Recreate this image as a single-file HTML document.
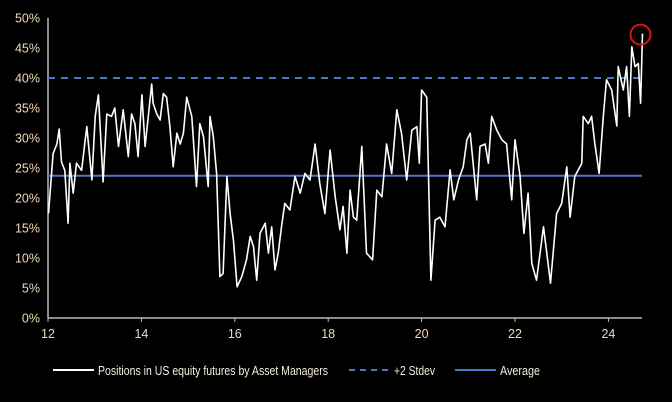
<!DOCTYPE html>
<html><head><meta charset="utf-8"><style>
html,body{margin:0;padding:0;background:#000;width:672px;height:402px;overflow:hidden}
text{font-family:"Liberation Sans",sans-serif}
</style></head><body>
<svg id="chart" width="672" height="402" viewBox="0 0 672 402" xmlns="http://www.w3.org/2000/svg">
<rect width="672" height="402" fill="#000"/>
<g id="grid"></g>
<g id="marks"></g>
<g>
<line x1="53" y1="370" x2="94" y2="370" stroke="#fff" stroke-width="2"/>
<text x="98" y="375" font-size="13" fill="#f4ecdf" textLength="230" lengthAdjust="spacingAndGlyphs">Positions in US equity futures by Asset Managers</text>
<line x1="349" y1="370" x2="388" y2="370" stroke="#4a78c8" stroke-width="2" stroke-dasharray="6,5"/>
<text x="394" y="375" font-size="13" fill="#f4ecdf" textLength="41" lengthAdjust="spacingAndGlyphs">+2 Stdev</text>
<line x1="455" y1="370" x2="496" y2="370" stroke="#4a78c8" stroke-width="2"/>
<text x="500" y="375" font-size="13" fill="#f4ecdf" textLength="40" lengthAdjust="spacingAndGlyphs">Average</text>
</g>
</svg>
<script>
const years = [12.01,12.11,12.19,12.24,12.29,12.36,12.43,12.47,12.54,12.61,12.72,12.83,12.94,13.01,13.08,13.18,13.26,13.36,13.43,13.51,13.61,13.72,13.79,13.86,13.93,14.01,14.08,14.22,14.25,14.33,14.40,14.47,14.54,14.61,14.68,14.76,14.83,14.90,14.97,15.08,15.18,15.25,15.33,15.43,15.47,15.54,15.61,15.68,15.75,15.83,15.90,15.97,16.05,16.15,16.25,16.33,16.40,16.47,16.54,16.65,16.72,16.79,16.86,16.93,17.00,17.07,17.18,17.29,17.40,17.50,17.61,17.72,17.82,17.93,18.04,18.15,18.25,18.32,18.40,18.47,18.54,18.61,18.72,18.82,18.95,19.04,19.15,19.25,19.36,19.47,19.57,19.68,19.79,19.90,19.95,20.00,20.11,20.20,20.29,20.39,20.50,20.61,20.69,20.79,20.89,20.97,21.04,21.18,21.25,21.36,21.43,21.50,21.61,21.72,21.82,21.93,22.00,22.11,22.19,22.28,22.36,22.46,22.61,22.68,22.76,22.89,23.00,23.11,23.18,23.28,23.43,23.46,23.57,23.64,23.71,23.80,23.89,23.96,24.07,24.18,24.21,24.32,24.39,24.45,24.50,24.57,24.64,24.69,24.73];
const positions = [17.4,27.4,29,31.5,26,24.6,15.8,25.8,20.8,25.8,24.6,31.9,23,33.6,37.2,22.7,34,33.6,35,28.6,34.7,26.9,34,32.4,26.9,37.2,28.6,39,35.8,34,33,37.4,36.8,31.9,25.2,30.8,29,30.8,36.8,33.6,21.9,32.4,30.2,21.9,33.6,30.2,24.1,6.9,7.4,23.6,17.4,13,5.2,6.9,9.7,13.6,11.9,6.3,14.1,15.8,10.8,15.2,8,10.8,15.2,19.1,18,23.6,20.8,24.1,23,29,22.4,17.4,28,20.2,14.7,18.6,10.8,21.3,16.8,16.3,28.6,10.8,9.7,21.3,20.2,29,24.1,34.7,30.8,23,31.3,31.9,25.8,38,36.8,6.3,16.3,16.8,15.2,24.7,19.7,23,25.2,29.7,30.8,19.7,28.6,29,25.8,33.6,31.3,29.7,29,19.7,29.7,23.6,14.1,20.8,9.1,6.3,15.2,10.8,5.8,17.4,19.1,25.2,16.8,23.6,25.8,33.6,32.4,33.6,29,24.1,33.6,39.7,38,32,41.9,38,41.9,33.6,45.2,41.9,42.4,35.8,47.4];
const average = 23.7;
const stdev2 = 40;
const yTicks = [0,5,10,15,20,25,30,35,40,45,50];
const xTicks = [12,14,16,18,20,22,24];

const NS='http://www.w3.org/2000/svg';
const X0=48, PX_PER_YEAR=46.7, Y0=318, PX_PER_PCT=6.0, XEND=642;
function xs(y){return X0+(y-12)*PX_PER_YEAR;}
function ys(v){return Y0-v*PX_PER_PCT;}
function mk(tag,attrs,parent){const e=document.createElementNS(NS,tag);for(const k in attrs)e.setAttribute(k,attrs[k]);parent.appendChild(e);return e;}
const grid=document.getElementById('grid'), marks=document.getElementById('marks');

const yAxis=mk('line',{x1:X0,y1:ys(50),x2:X0,y2:Y0,stroke:'#bbb','stroke-width':1.5},grid);


const xAxis=mk('line',{x1:X0,y1:Y0,x2:XEND,y2:Y0,stroke:'#bbb','stroke-width':1.5},grid);


yTicks.forEach(t=>{
  const tx=mk('text',{x:X0-8,y:ys(t)+4.5,'font-size':12.5,fill:'#f2d9bd','text-anchor':'end'},grid);
  tx.textContent=t+'%';
  
  
});
xTicks.forEach(t=>{
  const tk=mk('line',{x1:xs(t),y1:Y0,x2:xs(t),y2:Y0+4,stroke:'#bbb','stroke-width':1},grid);
  
  
  const tx=mk('text',{x:xs(t),y:Y0+20,'font-size':12.5,fill:'#f2d9bd','text-anchor':'middle'},grid);
  tx.textContent=t;
  
  
});
const sl=mk('line',{x1:X0,y1:ys(stdev2),x2:XEND,y2:ys(stdev2),stroke:'#4a78c8','stroke-width':2,'stroke-dasharray':'7,6'},marks);


const al=mk('line',{x1:X0,y1:ys(average),x2:XEND,y2:ys(average),stroke:'#4a78c8','stroke-width':2},marks);


const pts=years.map((y,i)=>xs(y).toFixed(1)+','+ys(positions[i]).toFixed(1)).join(' ');
const pl=mk('polyline',{points:pts,fill:'none',stroke:'#fff','stroke-width':1.6,'stroke-linejoin':'round'},marks);


const li=years.length-1;
const c=mk('circle',{cx:xs(years[li])-2,cy:ys(positions[li])+1,r:10,fill:'none',stroke:'#e01010','stroke-width':2},marks);


</script>
</body></html>
